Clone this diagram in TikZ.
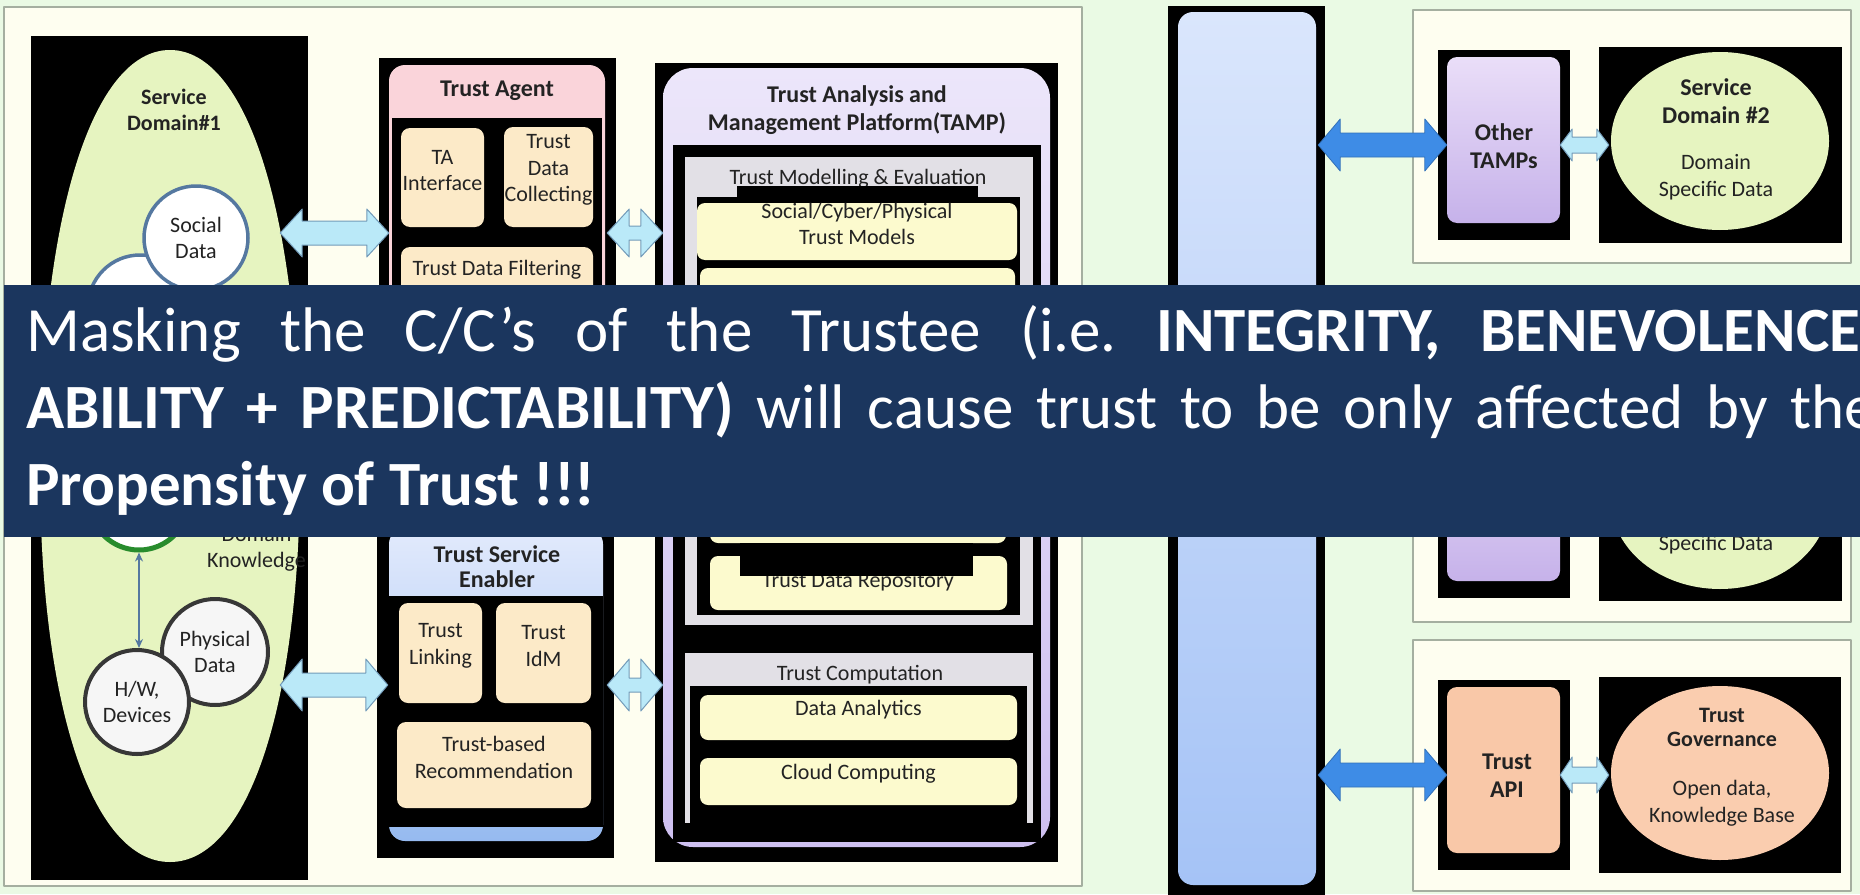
\documentclass[tikz,border=0pt]{standalone}
\usepackage{fontspec}
\setmainfont{Carlito}
\usetikzlibrary{fit,calc,arrows.meta}

\definecolor{bgcol}{RGB}{234,250,228}
\definecolor{panelcol}{RGB}{254,254,240}
\definecolor{panelline}{RGB}{165,175,160}
\definecolor{navy}{RGB}{27,54,94}
\definecolor{txt}{RGB}{35,35,35}
\definecolor{domgreen}{RGB}{230,244,192}
\definecolor{peach}{RGB}{252,234,200}
\definecolor{lightyel}{RGB}{252,250,206}
\definecolor{pinkhead}{RGB}{250,212,218}
\definecolor{greypanel}{RGB}{226,224,230}
\definecolor{cyanarrow}{RGB}{186,233,248}
\definecolor{cyanline}{RGB}{115,155,185}
\definecolor{bluearrow}{RGB}{62,140,230}
\definecolor{circline}{RGB}{85,120,160}
\definecolor{knowgreen}{RGB}{40,140,45}
\definecolor{darkcirc}{RGB}{55,55,55}
\definecolor{offwhite}{RGB}{246,246,246}
\definecolor{govpeach}{RGB}{250,205,175}
\definecolor{apipeach}{RGB}{249,200,168}
\definecolor{tsetop}{RGB}{226,234,252}
\definecolor{tsebot}{RGB}{150,186,240}
\definecolor{tamptop}{RGB}{236,230,250}
\definecolor{tampbot}{RGB}{206,192,240}
\definecolor{bartop}{RGB}{218,230,252}
\definecolor{barbot}{RGB}{165,195,246}
\definecolor{lavtop}{RGB}{234,222,248}
\definecolor{lavbot}{RGB}{198,178,234}

\newcommand\hdrfont{\bfseries\fontsize{24}{28}\selectfont}
\newcommand\lblfont{\fontsize{22}{26.5}\selectfont}
\newcommand\bannerfont{\fontsize{63}{77}\selectfont\frenchspacing}

% block arrow with two heads: style, from, to, half shaft, half head, head length
\newcommand\blockarrow[6]{%
  \filldraw[#1] let \p1=#2, \p2=#3 in
    (\x1,\y1) -- (\x1+#6,\y1+#5) -- (\x1+#6,\y1+#4) -- (\x2-#6,\y1+#4)
    -- (\x2-#6,\y1+#5) -- (\x2,\y1) -- (\x2-#6,\y1-#5) -- (\x2-#6,\y1-#4)
    -- (\x1+#6,\y1-#4) -- (\x1+#6,\y1-#5) -- cycle;}

\tikzset{
  blk/.style={fill=black, inner sep=0},
  sub/.style={fill=peach, rounded corners=9pt, inner sep=0, font=\lblfont, text=txt, align=center},
  ylw/.style={fill=lightyel, rounded corners=8pt, inner sep=0, font=\lblfont, text=txt, align=center},
  hdr/.style={font=\hdrfont, text=txt, align=center, inner sep=0},
  lbl/.style={font=\lblfont, text=txt, align=center, inner sep=0},
  panel/.style={fill=panelcol, draw=panelline, line width=1.5pt},
  datacirc/.style={circle, fill=white, draw=circline, line width=3.5pt, inner sep=0,
    minimum size=104pt, font=\lblfont, text=txt, align=center},
  devcirc/.style={datacirc, draw=darkcirc, fill=offwhite, line width=4pt},
  thinarr/.style={draw=circline, line width=1.5pt,
    arrows={Stealth[length=9pt,width=8pt]-Stealth[length=9pt,width=8pt]}},
  cyanarr/.style={fill=cyanarrow, draw=cyanline, line width=1pt},
  bluearr/.style={fill=bluearrow, draw=bluearrow!80!black, line width=0.8pt},
  bannertxt/.style={anchor=base west, inner sep=0, text=white, font=\bannerfont}
}

\begin{document}
\begin{tikzpicture}[x=1pt,y=-1pt,line join=round]
\useasboundingbox (0,0) rectangle (1860,894);
\clip (0,0) rectangle (1860,894);
\fill[bgcol] (0,0) rectangle (1860,894);

\draw[panel] (4,7) rectangle (1082,886);

% service domain 1
\node[blk, fit={(31,36) (308,880)}] (dom1) {};
\fill[domgreen] (170,50) .. controls (248,50) and (300,218) .. (300,470)
  .. controls (300,705) and (248,862) .. (170,862)
  .. controls (92,862) and (40,705) .. (40,470)
  .. controls (40,218) and (92,50) .. (170,50) -- cycle;
\node[hdr, font=\bfseries\fontsize{22}{26}\selectfont] (dom1title) at (174,110) {Service\\Domain\#1};
\node[datacirc] (cyber) at (140,307) {};
\node[datacirc] (social) at (196,238) {Social\\Data};
\node[datacirc, draw=knowgreen, line width=5pt, minimum size=100pt] (know) at (139,500) {};
\node[lbl, anchor=west] (knowtxt) at (207,549) {Domain\\Knowledge};
\node[devcirc, minimum size=106pt] (phys) at (215,652) {Physical\\Data};
\node[devcirc] (hw) at (137,702) {H/W,\\Devices};
\draw[thinarr] (know.south) -- (know.south |- hw.north);

% trust agent
\node[blk, fit={(379,58) (616,340)}] (ta) {};
\node[fill=pinkhead, rounded corners=16pt, inner sep=0, fit={(389,65) (605,335)}] (tahead) {};
\fill[black] (392,118) rectangle (602,340);
\node[hdr] (tatitle) at (497,91) {Trust Agent};
\node[sub, fit={(401,128) (484,227)}] (taif) {TA\\Interface};
\node[sub, fit={(504,127) (593,227)}] (tacoll) {Trust\\Data\\Collecting};
\node[sub, fit={(401,247) (593,308)}] (tafilt) {Trust Data Filtering};

% trust service enabler
\node[blk, fit={(377,520) (614,858)}] (tse) {};
\node[inner sep=0, rounded corners=16pt, top color=tsetop, bottom color=tsebot, fit={(389,528) (603,841)}] (tsehead) {};
\fill[black] (389,596) rectangle (603,827);
\node[hdr, font=\bfseries\fontsize{24}{25}\selectfont] (tsetitle) at (497,567) {Trust Service\\Enabler};
\node[sub, fit={(399,603) (482,703)}] (link) {Trust\\Linking};
\node[sub, fit={(496,603) (591,703)}] (idm) {Trust\\IdM};
\node[sub, fit={(397,722) (591,808)}] (recom) {Trust-based\\Recommendation};

% TAMP
\node[blk, fit={(655,63) (1058,862)}] (tamp) {};
\node[inner sep=0, rounded corners=30pt, top color=tamptop, bottom color=tampbot, fit={(663,68) (1050,847)}] (tampframe) {};
\fill[black] (673,145) rectangle (1041,842);
\node[hdr] (tamptitle) at (857,110) {Trust Analysis and\\Management Platform(TAMP)};
\node[fill=greypanel, inner sep=0, fit={(685,157) (1033,625)}] (model) {};
\node[lbl] (modeltitle) at (858,179) {Trust Modelling \& Evaluation};
\fill[black] (697,197) rectangle (1020,615);
\fill[black] (737,186) rectangle (978,197);
\node[ylw, fit={(697,203) (1017,260)}] (models) {Social/Cyber/Physical\\Trust Models};
\node[ylw, fit={(700,268) (1015,330)}] (ybox2) {};
\node[ylw, fit={(710,480) (1006,543)}] (ybox3) {};
\node[ylw, fit={(710,556) (1007,610)}] (repo) {};
\node[lbl] (repotxt) at (858,582) {Trust Data Repository};
\fill[black] (740,543) rectangle (973,576);
\node[fill=greypanel, inner sep=0, fit={(685,653) (1033,823)}] (comp) {};
\node[lbl] (comptitle) at (860,675) {Trust Computation};
\fill[black] (690,686) rectangle (1027,823);
\node[ylw, fit={(700,695) (1017,740)}] (analytics) {Data Analytics};
\node[ylw, fit={(700,758) (1017,805)}] (cloud) {Cloud Computing};

% right side
\node[blk, fit={(1168,6) (1325,900)}] (bar) {};
\node[inner sep=0, rounded corners=15pt, top color=bartop, bottom color=barbot, fit={(1178,12) (1316,885)}] (barfill) {};
\draw[panel] (1413,10) rectangle (1851,263);
\draw[panel] (1413,369) rectangle (1851,622);
\draw[panel] (1413,640) rectangle (1851,891);

\node[blk, fit={(1438,50) (1570,240)}] (oth) {};
\node[inner sep=0, rounded corners=10pt, top color=lavtop, bottom color=lavbot, fit={(1447,57) (1560,223)}] (othfill) {};
\node[hdr] (othtxt) at (1504,146) {Other\\TAMPs};
\node[blk, fit={(1599,47) (1842,243)}] (sd2) {};
\fill[domgreen] (1720,141) ellipse [x radius=109pt, y radius=89pt];
\node[hdr] (sd2title) at (1716,101) {Service\\Domain \#2};
\node[lbl] (sd2data) at (1716,177) {Domain\\Specific Data};

\node[blk, fit={(1438,409) (1570,598)}] (oth3) {};
\node[inner sep=0, rounded corners=10pt, top color=lavtop, bottom color=lavbot, fit={(1447,416) (1560,581)}] (oth3fill) {};
\node[blk, fit={(1599,406) (1842,601)}] (sd3) {};
\fill[domgreen] (1720,500) ellipse [x radius=109pt, y radius=89pt];
\node[lbl] (sd3data) at (1716,545) {Specific Data};

\node[blk, fit={(1438,680) (1570,870)}] (api) {};
\node[fill=apipeach, rounded corners=10pt, inner sep=0, fit={(1447,687) (1560,853)}] (apifill) {};
\node[hdr] (apitxt) at (1507,776) {Trust\\API};
\node[blk, fit={(1599,677) (1841,873)}] (gov) {};
\fill[govpeach] (1720,773) ellipse [x radius=109pt, y radius=87pt];
\node[hdr, font=\bfseries\fontsize{22}{24}\selectfont] (govtitle) at (1722,727) {Trust\\Governance};
\node[lbl] (govdata) at (1722,803) {Open data,\\Knowledge Base};

% arrows
\coordinate (rowA) at (0,233);
\coordinate (rowB) at (0,685);
\blockarrow{cyanarr}{($(dom1.east |- rowA)+(-28,0)$)}{($(ta.west |- rowA)+(10,0)$)}{12pt}{24pt}{22pt}
\blockarrow{cyanarr}{($(dom1.east |- rowB)+(-28,0)$)}{($(tse.west |- rowB)+(11,0)$)}{12pt}{26pt}{22pt}
\blockarrow{cyanarr}{($(ta.east |- rowA)+(-9,0)$)}{($(tamp.west |- rowA)+(8,0)$)}{7pt}{24pt}{22pt}
\blockarrow{cyanarr}{($(tse.east |- rowB)+(-7,0)$)}{($(tamp.west |- rowB)+(8,0)$)}{7pt}{26pt}{22pt}
\blockarrow{bluearr}{($(bar.east |- oth)+(-7,0)$)}{($(oth.west)+(9,0)$)}{12pt}{26pt}{22pt}
\blockarrow{bluearr}{($(bar.east |- api)+(-7,0)$)}{($(api.west)+(9,0)$)}{12pt}{26pt}{22pt}
\blockarrow{cyanarr}{($(oth.east)+(-10,0)$)}{($(sd2.west)+(10,0)$)}{8pt}{16pt}{12pt}
\blockarrow{cyanarr}{($(api.east)+(-10,0)$)}{($(gov.west)+(10,0)$)}{8pt}{18pt}{12pt}

% banner
\fill[navy] (4,285) rectangle (1880,537);
\node[bannertxt] (line1) at (26,351) {\makebox[1850pt][s]{Masking the C/C’s of the Trustee (i.e. \textbf{INTEGRITY, BENEVOLENCE,}}};
\node[bannertxt] (line2) at (26,428) {\makebox[1850pt][s]{\textbf{ABILITY + PREDICTABILITY)} will cause trust to be only affected by the}};
\node[bannertxt] (line3) at (26,505) {\textbf{Propensity of Trust !!!}};
\end{tikzpicture}
\end{document}
